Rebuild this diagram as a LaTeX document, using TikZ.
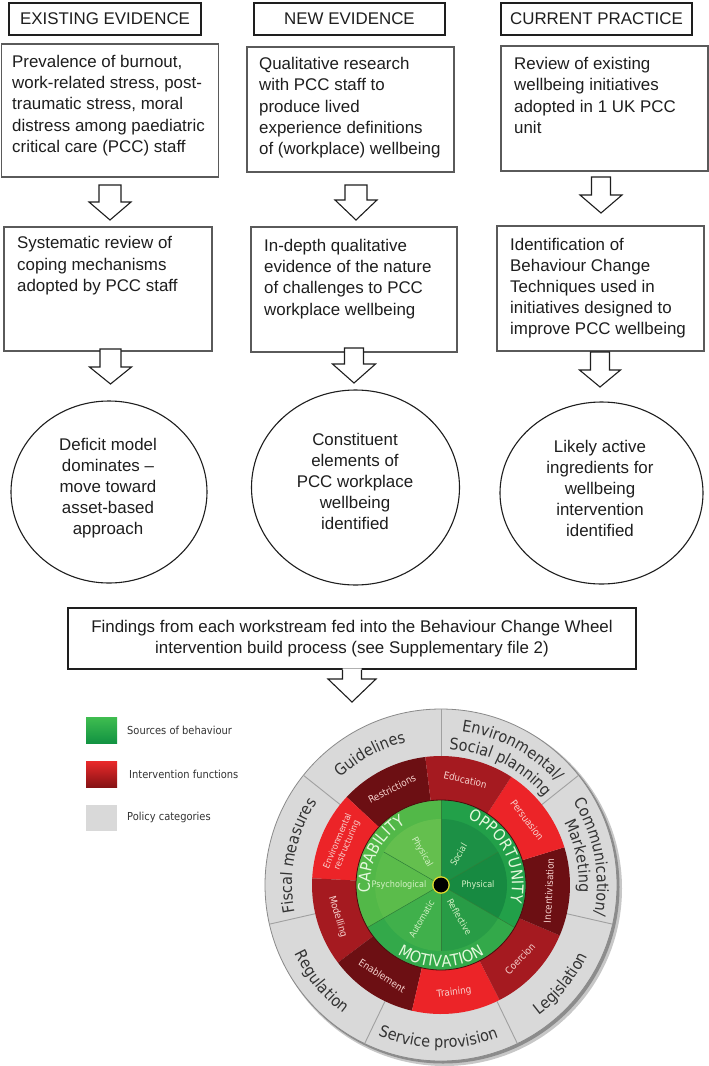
\documentclass[tikz,border=0pt]{standalone}
\usepackage{fontspec}
\setmainfont{Liberation Sans}
\newfontfamily\wf[FakeStretch=0.9]{DejaVu Sans}
\usetikzlibrary{calc,shapes.geometric,decorations.text}

\definecolor{ink}{HTML}{1E1E1E}
\definecolor{boxline}{HTML}{5A5A5A}
\definecolor{gring}{HTML}{D9D9D9}
\definecolor{gsep}{HTML}{A0A0A0}
\definecolor{gedge}{HTML}{8A8A8A}
\definecolor{gtxt}{HTML}{333333}
\definecolor{rdark}{HTML}{6C0F13}
\definecolor{rmed}{HTML}{A51A20}
\definecolor{rbright}{HTML}{EC2428}
\definecolor{rtxt}{HTML}{F7D3CF}
\definecolor{capband}{HTML}{52B848}
\definecolor{capphys}{HTML}{64BF4E}
\definecolor{cappsy}{HTML}{5BBC4B}
\definecolor{oppband}{HTML}{22A049}
\definecolor{oppsoc}{HTML}{1C9045}
\definecolor{oppphys}{HTML}{178A41}
\definecolor{motband}{HTML}{33A94A}
\definecolor{motauto}{HTML}{40B04B}
\definecolor{motrefl}{HTML}{289C46}
\definecolor{gline}{HTML}{2F7F39}
\definecolor{gtext}{HTML}{D4F1C6}
\definecolor{comtxt}{HTML}{E4F8DC}
\definecolor{dotring}{HTML}{E2D62A}
\definecolor{lgreentop}{HTML}{3FBD50}
\definecolor{lgreenbot}{HTML}{129342}
\definecolor{lredtop}{HTML}{EA2A2B}
\definecolor{lredbot}{HTML}{861214}

\newcommand\grayfont{\wf\fontsize{16}{18}\selectfont\color{gtxt}}
\newcommand\comfont{\wf\fontsize{16}{18}\selectfont\color{comtxt}}
\newcommand\blockarrow[5]{%
  \filldraw[arr] ($(#1)+(-#4,0)$) -- ($(#2)+(-#4,#3)$) -- ($(#2)+(-#5,#3)$) -- (#2)
    -- ($(#2)+(#5,#3)$) -- ($(#2)+(#4,#3)$) -- ($(#1)+(#4,0)$) -- cycle;}

\begin{document}
\begin{tikzpicture}[x=1pt,y=1pt,
  hdr/.style={draw=ink, line width=1.5pt, minimum height=32pt, inner sep=0pt,
    font=\fontsize{16.9}{20}\selectfont, text=ink},
  bx/.style={draw=boxline, line width=1.1pt, inner sep=0pt},
  txt/.style={font=\fontsize{16.9}{21.2}\selectfont, align=left, inner sep=0pt,
    anchor=north west, text=ink},
  ell/.style={ellipse, draw=ink, line width=1.1pt, inner sep=0pt},
  etxt/.style={font=\fontsize{16.9}{21}\selectfont, align=center, inner sep=0pt, text=ink},
  arr/.style={draw=ink, line width=1.1pt, fill=white, line join=miter},
  redlab/.style={font=\wf\fontsize{9.8}{10.5}\selectfont, text=rtxt, inner sep=0pt, align=center},
  glab/.style={font=\wf\fontsize{9}{10}\selectfont, text=gtext, inner sep=0pt},
  lgsq/.style={minimum width=31pt, minimum height=26pt, inner sep=0pt},
  lgtxt/.style={font=\wf\fontsize{11}{13}\selectfont, text=black!80, anchor=west, inner sep=0pt}
]
\useasboundingbox[fill=white] (0,0) rectangle (709,-1066);

% ---------- headers
\node[hdr, minimum width=192pt] (h1) at (105,-19) {EXISTING EVIDENCE};
\node[hdr, minimum width=191pt] (h2) at (349.5,-19) {NEW EVIDENCE};
\node[hdr, minimum width=191pt] (h3) at (596.5,-19) {CURRENT PRACTICE};

% ---------- first row of boxes
\node[bx, minimum width=217pt, minimum height=133pt] (b1) at (110,-110.5) {};
\node[bx, minimum width=207pt, minimum height=125pt] (b2) at (350.5,-109.5) {};
\node[bx, minimum width=207pt, minimum height=125pt] (b3) at (604.5,-108.5) {};
\node[txt] (b1t) at (12,-55) {Prevalence of burnout,\\work-related stress, post-\\traumatic stress, moral\\distress among paediatric\\critical care (PCC) staff};
\node[txt] (b2t) at (259,-57.3) {Qualitative research\\with PCC staff to\\produce lived\\experience definitions\\of (workplace) wellbeing};
\node[txt] (b3t) at (514,-57.3) {Review of existing\\wellbeing initiatives\\adopted in 1 UK PCC\\unit};

% ---------- second row of boxes
\node[bx, minimum width=208pt, minimum height=124pt] (c1) at (108,-289) {};
\node[bx, minimum width=206pt, minimum height=125pt] (c2) at (354,-289.5) {};
\node[bx, minimum width=207pt, minimum height=125pt] (c3) at (600.5,-288.5) {};
\node[txt] (c1t) at (17,-236.5) {Systematic review of\\coping mechanisms\\adopted by PCC staff};
\node[txt] (c2t) at (264,-239) {In-depth qualitative\\evidence of the nature\\of challenges to PCC\\workplace wellbeing};
\node[txt] (c3t) at (510,-237.7) {Identification of\\Behaviour Change\\Techniques used in\\initiatives designed to\\improve PCC wellbeing};

% ---------- ellipses
\node[ell, minimum width=196pt, minimum height=182pt] (e1) at (109,-492) {};
\node[ell, minimum width=208pt, minimum height=195pt] (e2) at (355.5,-487.5) {};
\node[ell, minimum width=203pt, minimum height=182pt] (e3) at (601.5,-493) {};
\node[etxt] (e1t) at (108,-488) {Deficit model\\dominates \textendash\\move toward\\asset-based\\approach};
\node[etxt] (e2t) at (355,-481) {Constituent\\elements of\\PCC workplace\\wellbeing\\identified};
\node[etxt] (e3t) at (600,-488) {Likely active\\ingredients for\\wellbeing\\intervention\\identified};

% ---------- findings box
\node[draw=ink, line width=1.8pt, minimum width=568pt, minimum height=61pt, inner sep=0pt,
  align=center, font=\fontsize{16.9}{21.5}\selectfont, text=ink] (f) at (352,-638.5)
  {Findings from each workstream fed into the Behaviour Change Wheel\\intervention build process (see Supplementary file 2)};

% ---------- block arrows
\coordinate (a1s) at (110,-185);   \coordinate (a1e) at (110,-220);
\coordinate (a2s) at (356,-185);   \coordinate (a2e) at (356,-220);
\coordinate (a3s) at (601,-177);   \coordinate (a3e) at (601,-213);
\coordinate (d1s) at (110.5,-349); \coordinate (d1e) at (110.5,-384);
\coordinate (d2s) at (354,-348);   \coordinate (d2e) at (354,-383);
\coordinate (d3s) at (600,-352);   \coordinate (d3e) at (600,-387);
\blockarrow{a1s}{a1e}{18}{11}{21}
\blockarrow{a2s}{a2e}{20}{11}{21}
\blockarrow{a3s}{a3e}{18}{9.5}{21}
\blockarrow{d1s}{d1e}{17}{10.5}{21}
\blockarrow{d2s}{d2e}{19}{9.5}{21.5}
\blockarrow{d3s}{d3e}{17}{9.5}{20.5}

% findings arrow (open into the box)
\coordinate (fs) at (f.south -| 352,0);
\coordinate (fe) at (352,-702);
\fill[white] ($(fs)+(-9.5,1.5)$) -- ($(fe)+(-9.5,23)$) -- ($(fe)+(-24,23)$) -- (fe)
  -- ($(fe)+(24,23)$) -- ($(fe)+(9.5,23)$) -- ($(fs)+(9.5,1.5)$) -- cycle;
\draw[ink, line width=1.1pt, line join=miter] ($(fs)+(-9.5,0)$) -- ($(fe)+(-9.5,23)$) -- ($(fe)+(-24,23)$) -- (fe)
  -- ($(fe)+(24,23)$) -- ($(fe)+(9.5,23)$) -- ($(fs)+(9.5,0)$);

% ---------- legend
\node[lgsq, top color=lgreentop, bottom color=lgreenbot] (lg1) at (101.5,-730) {};
\node[lgsq, top color=lredtop, bottom color=lredbot] (lg2) at (101.5,-774) {};
\node[lgsq, fill=gring] (lg3) at (101.5,-817.5) {};
\node[lgtxt] (lg1t) at (127,-730) {Sources of behaviour};
\node[lgtxt] (lg2t) at (129,-774) {Intervention functions};
\node[lgtxt] (lg3t) at (127,-817.5) {Policy categories};

% ---------- behaviour change wheel
\coordinate (W) at (441,-885);
\fill[black!22] ($(W)+(3.5,-3.5)$) circle (177.5);
\fill[black!45] ($(W)+(2,-2)$) circle (176.5);
\fill[gring] (W) circle (176);
\draw[gedge, line width=0.8pt] (W) circle (176);
\foreach \a in {90,38.571,-12.857,-64.286,-115.714,-167.143,141.429}
  \draw[gsep, line width=0.9pt] ($(W)+(\a:129)$) -- ($(W)+(\a:176)$);

% intervention functions
\foreach \a/\c in {97/rdark,137/rbright,177/rmed,217/rdark,257/rbright,297/rmed,337/rdark,17/rbright,57/rmed}
  \fill[\c] (W) -- ($(W)+(\a:129)$) arc[start angle=\a, delta angle=40, radius=129] -- cycle;

% sources of behaviour
\fill[capband] (W) -- ($(W)+(90:85)$) arc[start angle=90, delta angle=120, radius=85] -- cycle;
\fill[motband] (W) -- ($(W)+(210:85)$) arc[start angle=210, delta angle=120, radius=85] -- cycle;
\fill[oppband] (W) -- ($(W)+(-30:85)$) arc[start angle=-30, delta angle=120, radius=85] -- cycle;
\foreach \a/\c in {90/capphys,150/cappsy,210/motauto,270/motrefl,330/oppphys,30/oppsoc}
  \fill[\c] (W) -- ($(W)+(\a:66)$) arc[start angle=\a, delta angle=60, radius=66] -- cycle;
\foreach \a in {90,210,330}
  \draw[gline, line width=0.5pt] (W) -- ($(W)+(\a:85)$);
\foreach \a in {30,150,270}
  \draw[gline, line width=0.5pt] (W) -- ($(W)+(\a:66)$);
\draw[rdark!70!black, line width=0.8pt] (W) circle (85);
\fill[black] (W) circle (7.5);
\draw[dotring, line width=1.2pt] (W) circle (8.2);

% policy category labels
\path[decorate, decoration={text along path, text={|\grayfont|Guidelines}, text align=center}]
  ($(W)+(150:147)$) arc[start angle=150, end angle=87, radius=147];
\path[decorate, decoration={text along path, text={|\grayfont|Environmental/}, text align=center}]
  ($(W)+(97:155)$) arc[start angle=97, end angle=27, radius=155];
\path[decorate, decoration={text along path, text={|\grayfont|Social planning}, text align=center}]
  ($(W)+(100:136)$) arc[start angle=100, end angle=27, radius=136];
\path[decorate, decoration={text along path, text={|\grayfont|Communication/}, text align=center}]
  ($(W)+(46:156)$) arc[start angle=46, end angle=-25, radius=156];
\path[decorate, decoration={text along path, text={|\grayfont|Marketing}, text align=center}]
  ($(W)+(45:138)$) arc[start angle=45, end angle=-21, radius=138];
\path[decorate, decoration={text along path, text={|\grayfont|Legislation}, text align=center}]
  ($(W)+(-70:163)$) arc[start angle=-70, end angle=-9, radius=163];
\path[decorate, decoration={text along path, text={|\grayfont|Service provision}, text align=center}]
  ($(W)+(-130:163)$) arc[start angle=-130, end angle=-52, radius=163];
\path[decorate, decoration={text along path, text={|\grayfont|Regulation}, text align=center}]
  ($(W)+(-172:161.5)$) arc[start angle=-172, end angle=-110, radius=161.5];
\path[decorate, decoration={text along path, text={|\grayfont|Fiscal measures}, text align=center}]
  ($(W)+(205:149)$) arc[start angle=205, end angle=132, radius=149];

% COM labels
\path[decorate, decoration={text along path, text={|\comfont|CAPABILITY}, text align=center}]
  ($(W)+(213:71)$) arc[start angle=213, end angle=93, radius=71];
\path[decorate, decoration={text along path, text={|\comfont|OPPORTUNITY}, text align=center}]
  ($(W)+(87:71)$) arc[start angle=87, end angle=-33, radius=71];
\path[decorate, decoration={text along path, text={|\comfont|MOTIVATION}, text align=center}]
  ($(W)+(-150:82)$) arc[start angle=-150, end angle=-30, radius=82];

% intervention function labels
\node[redlab, rotate=27]  (lrs) at ($(W)+(117:108)$) {Restrictions};
\node[redlab, rotate=-13] (led) at ($(W)+(77:108)$) {Education};
\node[redlab, rotate=-53] (lpe) at ($(W)+(37:108)$) {Persuasion};
\node[redlab, rotate=87]  (lin) at ($(W)+(-3:108)$) {Incentivisation};
\node[redlab, rotate=47]  (lco) at ($(W)+(-43:108)$) {Coercion};
\node[redlab, rotate=7]   (ltr) at ($(W)+(-83:108)$) {Training};
\node[redlab, rotate=-33] (len) at ($(W)+(-123:108)$) {Enablement};
\node[redlab, rotate=-73] (lmo) at ($(W)+(197:108)$) {Modelling};
\node[redlab, rotate=67, font=\wf\fontsize{9}{10}\selectfont] (ler) at ($(W)+(157:107)$) {Environmental\\restructuring};

% component labels
\node[glab, rotate=-60] (gph1) at ($(W)+(120:38)$) {Physical};
\node[glab, rotate=60]  (gso)  at ($(W)+(60:35)$) {Social};
\node[glab]             (gph2) at ($(W)+(0:37)$) {Physical};
\node[glab]             (gps)  at ($(W)+(180:42)$) {Psychological};
\node[glab, rotate=60]  (gau)  at ($(W)+(240:39)$) {Automatic};
\node[glab, rotate=-60] (gre)  at ($(W)+(300:37)$) {Reflective};
\end{tikzpicture}
\end{document}
